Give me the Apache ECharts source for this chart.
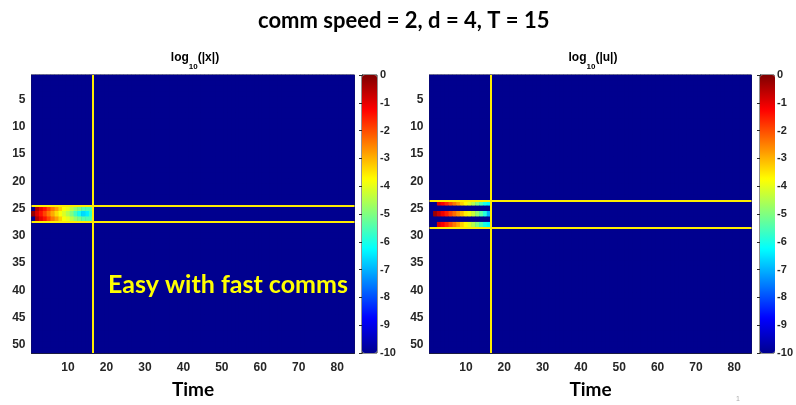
<!DOCTYPE html>
<html>
<head>
<meta charset="utf-8">
<script src="https://cdn.jsdelivr.net/npm/echarts@6/dist/echarts.min.js"></script>
<style>
  html, body { margin: 0; padding: 0; background: #fff; }
  #chart { width: 796px; height: 405px; }
</style>
</head>
<body>
<div id="chart"></div>
<script>
// grid size: time steps along x, nodes along y
const timeCount = 84;
const nodeCount = 51;
const floorValue = -10;

const timeTicks = [10, 20, 30, 40, 50, 60, 70, 80];
const nodeTicks = [5, 10, 15, 20, 25, 30, 35, 40, 45, 50];
const colorTicks = [0, -1, -2, -3, -4, -5, -6, -7, -8, -9, -10];

// jet colormap
const jetColors = ['#00008f', '#0000ff', '#0080ff', '#00ffff', '#80ff80',
  '#ffff00', '#ff8000', '#ff0000', '#800000'];

// log10(|x|) : non-floor rows, values for time 1..16
const xRow25 = [-10, -0.5, -1.0, -1.4, -1.9, -2.4, -2.8, -3.3, -3.8, -4.0, -4.4, -4.8, -5.1, -5.4, -5.5, -5.5];
const xRow26 = [-0.2, -0.9, -1.4, -1.9, -2.4, -2.9, -3.4, -3.8, -4.1, -4.5, -5.0, -5.6, -6.1, -6.6, -6.4, -5.8];
const xRow27 = [-10, -0.5, -1.0, -1.4, -1.9, -2.4, -2.8, -3.3, -3.8, -4.0, -4.4, -4.8, -5.1, -5.4, -5.5, -5.5];

// log10(|u|)
const uRow24 = [-10, -10, -0.9, -1.2, -1.6, -2.0, -2.4, -2.8, -3.3, -3.7, -4.1, -4.5, -5.0, -5.5, -6.0, -6.3];
const uRow26 = [-10, -0.3, -0.7, -1.1, -1.5, -1.9, -2.3, -2.7, -3.1, -3.6, -3.9, -4.3, -4.8, -5.3, -5.9, -7.0];
const uRow28 = [-10, -10, -0.9, -1.2, -1.6, -2.0, -2.4, -2.8, -3.3, -3.7, -4.1, -4.5, -5.0, -5.5, -6.0, -6.3];

// yellow guide lines
const xLinesTime = [16.5];
const xLinesNode = [24.5, 27.5];
const uLinesTime = [16.5];
const uLinesNode = [23.5, 28.5];

const timeCats = Array.from({ length: timeCount }, (_, i) => String(i + 1));
const nodeCats = Array.from({ length: nodeCount }, (_, i) => String(i + 1));

function buildCells(rows) {
  const cells = [];
  for (let n = 1; n <= nodeCount; n++) {
    for (let t = 1; t <= timeCount; t++) {
      const r = rows[n];
      const v = r && t <= r.length ? r[t - 1] : floorValue;
      cells.push([t - 1, n - 1, v]);
    }
  }
  return cells;
}

const xCells = buildCells({ 25: xRow25, 26: xRow26, 27: xRow27 });
const uCells = buildCells({ 24: uRow24, 26: uRow26, 28: uRow28 });

const tickFont = { fontFamily: 'Liberation Sans', fontWeight: 'bold', fontSize: 12, color: '#262626' };
const edge = { lineStyle: { color: '#262626', width: 1 } };

const panels = [
  { left: 31.5, width: 323, cbLeft: 362, cx: 190, name: 'x', cells: xCells, lt: xLinesTime, ln: xLinesNode },
  { left: 429.5, width: 322, cbLeft: 760, cx: 588, name: 'u', cells: uCells, lt: uLinesTime, ln: uLinesNode }
];
const plotTop = 75, plotHeight = 278;

const option = {
  animation: false,
  title: [
    {
      text: 'comm speed = 2, d = 4, T = 15',
      left: 253, top: 5,
      textStyle: { fontFamily: 'Lato', fontWeight: 'bold', fontSize: 22, color: '#000' }
    }
  ],
  grid: [], xAxis: [], yAxis: [], series: [], visualMap: [],
  graphic: [
    {
      type: 'text', left: 108, top: 272, z: 100,
      style: { text: 'Easy with fast comms', fill: '#ffff00', font: 'bold 25px Lato' }
    },
    {
      type: 'text', left: 736, top: 396, z: 100,
      style: { text: '1', fill: '#aaa', font: '7px Liberation Sans' }
    }
  ]
};

panels.forEach((p, i) => {
  const g = i * 2;
  option.title.push({
    text: '{a|log}{s|10}{a|(|' + p.name + '|)}',
    left: p.cx, top: 47, textAlign: 'center',
    textStyle: {
      rich: {
        a: { fontFamily: 'Liberation Sans', fontWeight: 'bold', fontSize: 12, color: '#000', lineHeight: 19, verticalAlign: 'top' },
        s: { fontFamily: 'Liberation Sans', fontWeight: 'bold', fontSize: 8, color: '#000', lineHeight: 8, verticalAlign: 'bottom' }
      }
    }
  });
  option.grid.push({ left: p.left, top: plotTop, width: p.width, height: plotHeight,
    show: true, borderColor: '#262626', borderWidth: 1, backgroundColor: jetColors[0] });
  option.grid.push({ left: p.cbLeft, top: plotTop, width: 15, height: plotHeight,
    show: true, borderColor: '#262626', borderWidth: 1 });

  option.xAxis.push({
    type: 'category', gridIndex: g, data: timeCats, position: 'bottom',
    name: 'Time', nameLocation: 'middle', nameGap: 27,
    nameTextStyle: { fontFamily: 'Lato', fontWeight: 'bold', fontSize: 19, color: '#000' },
    axisLine: edge,
    axisTick: { inside: true, alignWithLabel: true, length: 4, lineStyle: { color: '#555' },
      interval: (idx, v) => timeTicks.includes(Number(v)) },
    axisLabel: Object.assign({ margin: 9, interval: (idx, v) => timeTicks.includes(Number(v)) }, tickFont),
    splitLine: { show: false }
  });
  option.xAxis.push({ type: 'value', gridIndex: g, min: 0.5, max: timeCount + 0.5, show: false });
  option.yAxis.push({
    type: 'category', gridIndex: g, data: nodeCats, inverse: true,
    axisLine: edge,
    axisTick: { inside: true, alignWithLabel: true, length: 4, lineStyle: { color: '#555' },
      interval: (idx, v) => nodeTicks.includes(Number(v)) },
    axisLabel: Object.assign({ margin: 6, interval: (idx, v) => nodeTicks.includes(Number(v)) }, tickFont),
    splitLine: { show: false }
  });
  option.yAxis.push({ type: 'value', gridIndex: g, min: 0.5, max: nodeCount + 0.5, inverse: true, show: false });

  option.series.push({
    type: 'heatmap', xAxisIndex: g, yAxisIndex: g, data: p.cells,
    progressive: 0, emphasis: { disabled: true }, silent: true
  });
  option.series.push({
    type: 'line', xAxisIndex: g + 1, yAxisIndex: g + 1, data: [], silent: true,
    markLine: {
      silent: true, symbol: ['none', 'none'], animation: false,
      label: { show: false },
      lineStyle: { color: '#ffee00', width: 2, type: 'solid' },
      emphasis: { disabled: true },
      data: p.lt.map(v => ({ xAxis: v })).concat(p.ln.map(v => ({ yAxis: v })))
    }
  });

  option.visualMap.push({
    type: 'continuous', seriesIndex: i * 2, min: floorValue, max: 0,
    inRange: { color: jetColors },
    left: p.cbLeft, top: plotTop, itemWidth: 15, itemHeight: plotHeight,
    padding: 0, calculable: false, hoverLink: false, realtime: false
  });
});

// colorbar axes (grids 1 and 3 hold the bars)
panels.forEach((p, i) => {
  const cg = i * 2 + 1;
  option.xAxis.push({ type: 'value', gridIndex: cg, show: false, min: 0, max: 1 });
  option.yAxis.push({
    type: 'value', gridIndex: cg, min: colorTicks[colorTicks.length - 1], max: colorTicks[0], interval: 1,
    position: 'right',
    axisLine: { show: true, lineStyle: { color: '#262626', width: 1 } },
    axisTick: { show: true, inside: true, length: 3, lineStyle: { color: '#262626' } },
    axisLabel: Object.assign({ margin: 3 }, tickFont, { fontSize: 11 }),
    splitLine: { show: false }
  });
});

const chart = echarts.init(document.getElementById('chart'));
chart.setOption(option);
</script>
</body>
</html>
